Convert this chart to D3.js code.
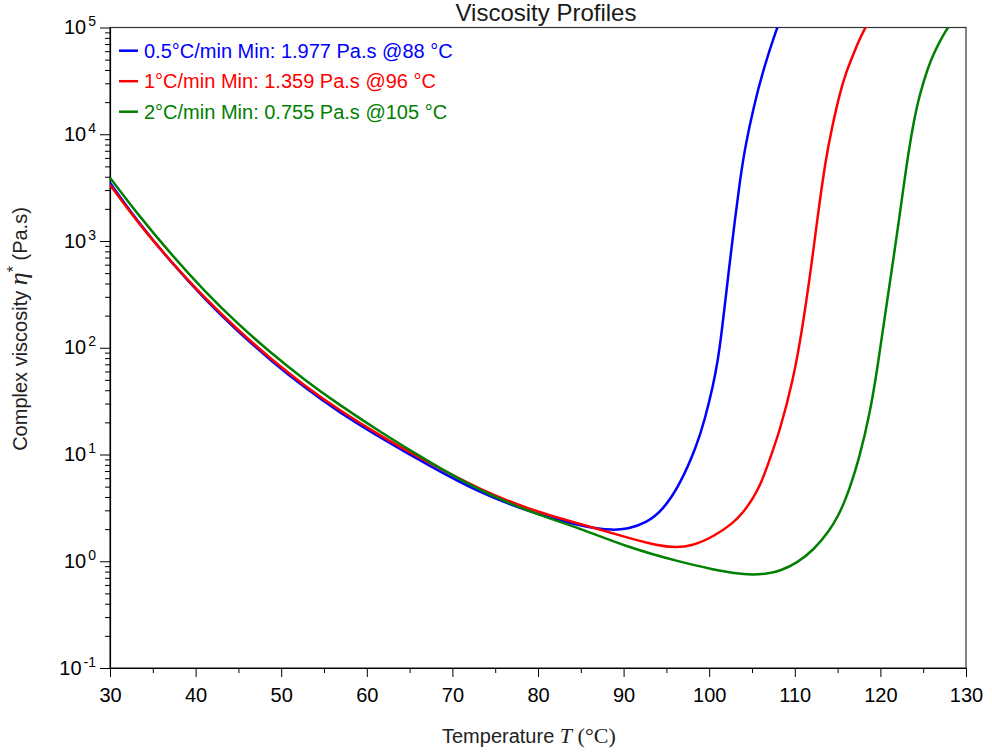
<!DOCTYPE html>
<html>
<head>
<meta charset="utf-8">
<script src="https://cdn.jsdelivr.net/npm/d3@7"></script>
<style>
	body { margin: 0; background: #fff; }
	svg { display: block; font-family: 'Liberation Sans', Arial, sans-serif; }
</style>
</head>
<body>
<div id="chart"></div>
<script>
// legend entries, one per heating rate
const seriesLabels = [
	'0.5°C/min Min: 1.977 Pa.s @88 °C',
	'1°C/min Min: 1.359 Pa.s @96 °C',
	'2°C/min Min: 0.755 Pa.s @105 °C'
];
const seriesColors = [ '#0000ff', '#ff0000', '#008000' ];

// 0.5 °C/min
const temp05 = [ 30, 33.3, 37.2, 41.1, 45, 48.9, 52.8, 56.7, 61.5, 67.4, 73.2, 79.1, 84.9, 86.9, 88.5, 90.5, 92.7, 94.6, 96.6, 98.5, 99.5, 100.5, 101.0, 101.4, 102.4, 103.0, 103.6, 104.2, 105.2, 106.3, 107.9, 108.1 ];
const eta05 = [ 3510, 1496, 624, 283, 140, 74.5, 41.9, 25.1, 14.5, 7.76, 4.37, 2.87, 2.15, 2.03, 1.96, 2.0, 2.3, 3.02, 5.25, 11.8, 21.4, 45.7, 75.9, 126, 631, 1570, 3720, 7640, 18100, 40000, 98400, 105000 ];

// 1 °C/min
const temp1 = [ 30, 33.3, 37.2, 41.1, 45, 48.9, 52.8, 56.7, 61.5, 67.4, 73.2, 79.1, 84.9, 90.7, 94, 96, 98, 100.5, 102.8, 104.0, 105.2, 106.0, 106.7, 108.3, 109.8, 110.8, 112.0, 112.7, 113.6, 114.3, 115.3, 116.0, 116.8, 117.5, 118.2, 118.5 ];
const eta1 = [ 3350, 1466, 631, 290, 145, 77.3, 43.7, 26.3, 15.1, 8.22, 4.7, 3.02, 2.24, 1.64, 1.4, 1.345, 1.39, 1.7, 2.27, 2.88, 3.98, 5.25, 7.41, 17.0, 49.9, 136, 631, 1780, 5750, 11200, 25100, 38000, 55000, 75900, 98400, 107000 ];

// 2 °C/min
const temp2 = [ 30, 33.3, 37.2, 41.1, 45, 48.9, 52.8, 56.7, 61.5, 67.4, 73.2, 79.1, 84.9, 90.7, 96.6, 100.5, 103, 105, 107, 108.3, 110.2, 112.2, 114.1, 115.1, 116.1, 117.6, 118.8, 119.6, 120.4, 121.7, 122.3, 123.1, 123.8, 124.4, 125.0, 125.6, 126.2, 127.0, 127.7, 128 ];
const eta2 = [ 3920, 1754, 740, 335, 165, 88.1, 49.5, 29.5, 16.4, 8.41, 4.57, 2.88, 2.04, 1.33, 0.985, 0.835, 0.77, 0.745, 0.766, 0.815, 0.957, 1.27, 1.96, 2.69, 4.03, 9.53, 25.1, 60.3, 169, 851, 1860, 5500, 12000, 20400, 30200, 42700, 56200, 75900, 94800, 102000 ];

const xMajorTicks = [ 30, 40, 50, 60, 70, 80, 90, 100, 110, 120, 130 ];
const xMinorTicks = [ 35, 45, 55, 65, 75, 85, 95, 105, 115, 125 ];
const yExponents = [ -1, 0, 1, 2, 3, 4, 5 ];

const width = 992,
	height = 755;
const plot = { left: 110, right: 966, top: 27.5, bottom: 668 };

const svg = d3.select('#chart').append('svg').attr('width', width).attr('height', height);

const x = d3.scaleLinear().domain([ 30, 130 ]).range([ plot.left, plot.right ]);
const y = d3.scaleLog().domain([ 0.1, 1e5 ]).range([ plot.bottom, plot.top ]);

// frame
svg
	.append('rect')
	.attr('x', plot.left)
	.attr('y', plot.top)
	.attr('width', plot.right - plot.left)
	.attr('height', plot.bottom - plot.top)
	.attr('fill', 'none')
	.attr('stroke', '#333')
	.attr('stroke-width', 1.2);

svg
	.append('defs')
	.append('clipPath')
	.attr('id', 'plot-clip')
	.append('rect')
	.attr('x', plot.left)
	.attr('y', plot.top)
	.attr('width', plot.right - plot.left)
	.attr('height', plot.bottom - plot.top);

// y minor ticks (2..9 in each decade)
let yMinor = [];
yExponents.slice(0, -1).forEach(function(e) {
	for (let k = 2; k <= 9; k++) yMinor.push(k * Math.pow(10, e));
});

svg
	.append('g')
	.attr('transform', `translate(${plot.left},0)`)
	.call(d3.axisLeft(y).tickValues(yMinor).tickSize(5).tickSizeOuter(0).tickFormat(''))
	.call((g) => g.select('.domain').remove());

const yAxis = svg
	.append('g')
	.attr('transform', `translate(${plot.left},0)`)
	.call(
		d3
			.axisLeft(y)
			.tickValues(yExponents.map((e) => Math.pow(10, e)))
			.tickSize(10)
			.tickSizeOuter(0)
			.tickFormat('')
	);
yAxis.select('.domain').attr('stroke', '#000').attr('stroke-width', 1.2);

yAxis.selectAll('.tick').each(function(d) {
	const t = d3
		.select(this)
		.append('text')
		.attr('x', -14)
		.attr('y', 6)
		.attr('fill', '#000')
		.attr('text-anchor', 'end')
		.attr('font-size', 20);
	t.append('tspan').text('10');
	t.append('tspan').attr('dy', -8).attr('dx', 2).attr('font-size', 14).text(Math.round(Math.log10(d)));
});

// x axis
svg
	.append('g')
	.attr('transform', `translate(0,${plot.bottom})`)
	.call(d3.axisBottom(x).tickValues(xMinorTicks).tickSize(5).tickSizeOuter(0).tickFormat(''))
	.call((g) => g.select('.domain').remove());

const xAxis = svg
	.append('g')
	.attr('transform', `translate(0,${plot.bottom})`)
	.call(d3.axisBottom(x).tickValues(xMajorTicks).tickSize(9).tickSizeOuter(0).tickFormat(d3.format('d')));
xAxis.select('.domain').attr('stroke', '#000').attr('stroke-width', 1.2);
xAxis
	.selectAll('text')
	.attr('font-size', 20)
	.attr('font-family', "'Liberation Sans', Arial, sans-serif")
	.attr('fill', '#000')
	.attr('dy', null)
	.attr('y', 34);

// curves (b-spline keeps the hand-read points from showing corners)
const line = d3
	.line()
	.x((d) => x(d[0]))
	.y((d) => y(d[1]))
	.curve(d3.curveBasis);

const series = [ d3.zip(temp05, eta05), d3.zip(temp1, eta1), d3.zip(temp2, eta2) ];

svg
	.append('g')
	.attr('clip-path', 'url(#plot-clip)')
	.selectAll('path')
	.data(series)
	.enter()
	.append('path')
	.attr('d', line)
	.attr('fill', 'none')
	.attr('stroke', (d, i) => seriesColors[i])
	.attr('stroke-width', 2.5)
	.attr('stroke-linejoin', 'round');

// legend
const legend = svg.append('g').selectAll('g').data(seriesLabels).enter().append('g').attr('transform', function(d, i) {
	return `translate(119, ${50.7 + i * 30.5})`;
});
legend
	.append('line')
	.attr('x1', 0)
	.attr('x2', 19)
	.attr('stroke', (d, i) => seriesColors[i])
	.attr('stroke-width', 2.5);
legend
	.append('text')
	.attr('x', 25)
	.attr('y', 7)
	.attr('font-size', 20)
	.attr('fill', (d, i) => seriesColors[i])
	.text((d) => d);

// title
svg
	.append('text')
	.attr('x', 546)
	.attr('y', 21)
	.attr('text-anchor', 'middle')
	.attr('font-size', 24)
	.attr('fill', '#1a1a1a')
	.text('Viscosity Profiles');

// axis titles
const xTitle = svg.append('text').attr('x', 442).attr('y', 743).attr('font-size', 20).attr('fill', '#222');
xTitle.append('tspan').text('Temperature ');
xTitle.append('tspan').attr('font-family', "'Liberation Serif', serif").attr('font-style', 'italic').attr('font-size', 22).text('T');
xTitle.append('tspan').attr('font-family', "'Liberation Serif', serif").attr('font-size', 22).text(' (°C)');

const yTitle = svg
	.append('text')
	.attr('transform', 'rotate(-90)')
	.attr('x', -329)
	.attr('y', 27)
	.attr('text-anchor', 'middle')
	.attr('font-size', 20)
	.attr('fill', '#222');
yTitle.append('tspan').text('Complex viscosity ');
yTitle.append('tspan').attr('font-family', "'Liberation Serif', serif").attr('font-style', 'italic').attr('font-size', 26).text('η');
yTitle.append('tspan').attr('font-size', 16).attr('dy', -8).text('*');
yTitle.append('tspan').attr('dy', 8).text(' (Pa.s)');
</script>
</body>
</html>
